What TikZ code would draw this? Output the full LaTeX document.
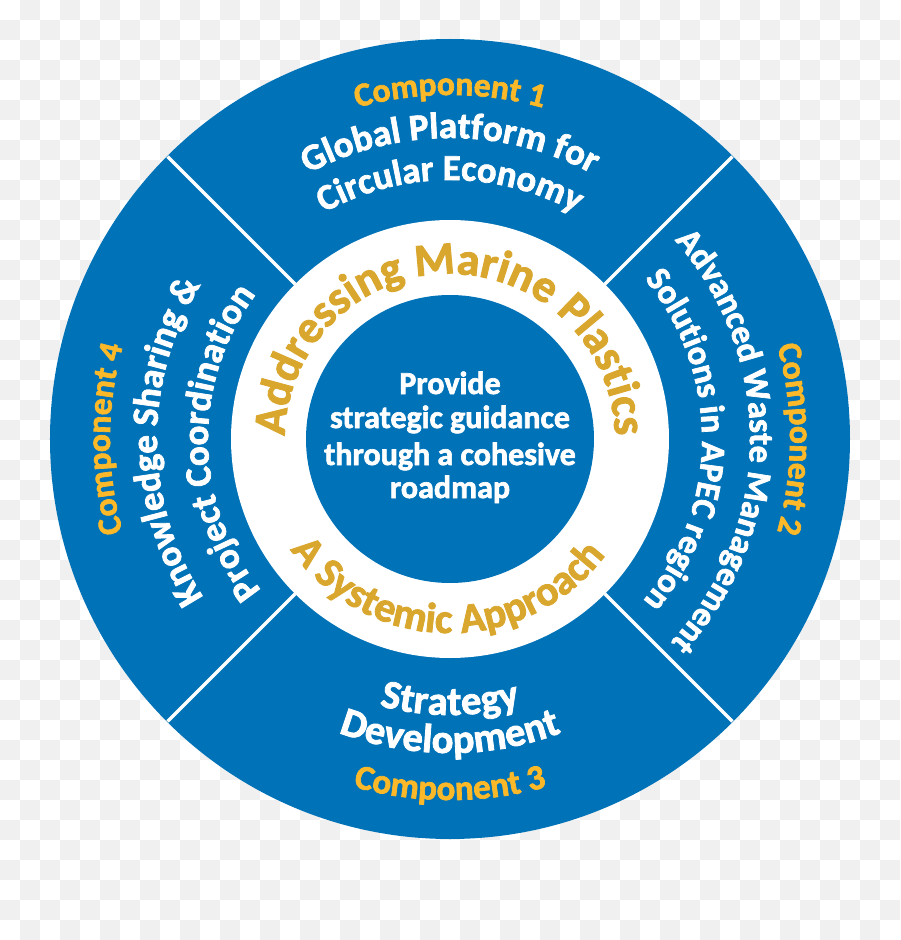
\documentclass[tikz,border=0pt]{standalone}
\usepackage{fontspec}
\setmainfont{Carlito}[BoldFeatures={FakeBold=2}]
\usetikzlibrary{decorations.text}
\definecolor{apblue}{RGB}{0,114,183}
\definecolor{ringgold}{RGB}{218,167,46}
\definecolor{compyellow}{RGB}{251,184,40}
\definecolor{checkgrey}{RGB}{240,240,240}
\newcommand\fComp{\fontsize{33.5}{36}\selectfont\bfseries}
\newcommand\fCompB{\fontsize{35}{38}\selectfont\bfseries}
\newcommand\fTopA{\fontsize{37}{40}\selectfont\bfseries}
\newcommand\fTopB{\fontsize{36.5}{40}\selectfont\bfseries}
\newcommand\fRight{\fontsize{34.5}{38}\selectfont\bfseries}
\newcommand\fLeft{\fontsize{37}{40}\selectfont\bfseries}
\newcommand\fBottom{\fontsize{40.5}{44}\selectfont\bfseries}
\newcommand\fRingA{\fontsize{46}{50}\selectfont\bfseries}
\newcommand\fRingB{\fontsize{42}{46}\selectfont\bfseries}
\newcommand\fCenter{\fontsize{32}{35}\selectfont\bfseries}
\begin{document}
\begin{tikzpicture}[x=1pt,y=1pt,
  curved/.style n args={2}{decorate,
    decoration={text along path, text align=center, text color=#1, text={#2}}},
  spread/.style n args={2}{decorate,
    decoration={text along path, text align=fit to path, text color=#1, text={#2}}},
  centertext/.style={text=white, font=\fCenter, inner sep=0pt, anchor=base},
  divider/.style={white, line width=3.5pt}]
\useasboundingbox (-450,-501) rectangle (450,439);
% checkered background
\fill[white] (-450,-501) rectangle (450,439);
\foreach \j in {0,...,46}{
  \pgfmathtruncatemacro\st{mod(\j+1,2)}
  \pgfmathtruncatemacro\nx{\st+2}
  \foreach \i in {\st,\nx,...,44}{
    \fill[checkgrey] (20*\i-450, 419-20*\j) rectangle ++(20,20);
  }
}
% discs
\fill[apblue] (0,0) circle[radius=400pt];
\fill[white] (0,0) circle[radius=219pt];
\fill[apblue] (0,0) circle[radius=144pt];
\foreach \a in {45,135,225,315}
  \draw[divider] (\a:219) -- (\a:399.5);
% inner ring texts
\path[curved={ringgold}{|\fRingA|Addressing Marine Plastics}]
  (200:165) arc[start angle=200, end angle=-20, radius=165pt];
\path[curved={ringgold}{|\fRingB|A Systemic Approach}]
  (189:194) arc[start angle=189, end angle=349, radius=194pt];
% component 1 (top)
\path[curved={compyellow}{|\fComp|Component 1}]
  (135:344) arc[start angle=135, end angle=45, radius=344pt];
\path[curved={white}{|\fTopA|Global Platform for}]
  (140:301) arc[start angle=140, end angle=40, radius=301pt];
\path[curved={white}{|\fTopB|Circular Economy}]
  (140:259) arc[start angle=140, end angle=40, radius=259pt];
% component 2 (right)
\path[curved={compyellow}{|\fComp|Component 2}]
  (45:340) arc[start angle=45, end angle=-45, radius=340pt];
\path[curved={white}{|\fRight|Advanced Waste Management}]
  (54.4:300) arc[start angle=54.4, end angle=-55.6, radius=300pt];
\path[curved={white}{|\fRight|Solutions in APEC region}]
  (54.7:252) arc[start angle=54.7, end angle=-55.3, radius=252pt];
% component 4 (left)
\path[curved={compyellow}{|\fComp|Component 4}]
  (225:340) arc[start angle=225, end angle=135, radius=340pt];
\path[curved={white}{|\fLeft|Knowledge Sharing {\&}}]
  (235.5:293) arc[start angle=235.5, end angle=125.5, radius=293pt];
\path[curved={white}{|\fLeft|Project Coordination}]
  (236:242) arc[start angle=236, end angle=126, radius=242pt];
% component 3 (bottom)
\path[spread={white}{|\fBottom|Strategy}]
  (255.2:276) arc[start angle=255.2, end angle=284.8, radius=276pt];
\path[curved={white}{|\fBottom|Development}]
  (225:314) arc[start angle=225, end angle=315, radius=314pt];
\path[curved={compyellow}{|\fCompB|Component 3}]
  (225:361) arc[start angle=225, end angle=315, radius=361pt];
% centre text
\node[centertext] (pv1) at (0,45) {Provide};
\node[centertext] (pv2) at (0,11) {strategic guidance};
\node[centertext] (pv3) at (0,-26) {through a cohesive};
\node[centertext] (pv4) at (0,-59) {roadmap};
\end{tikzpicture}
\end{document}
